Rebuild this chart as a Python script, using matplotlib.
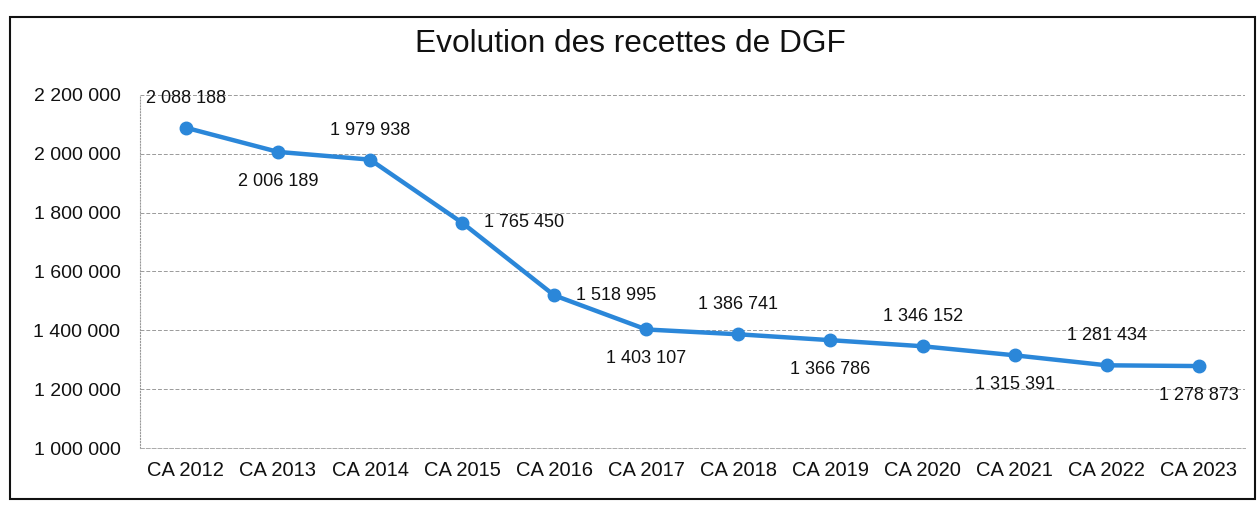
import matplotlib
matplotlib.use("Agg")
import matplotlib.pyplot as plt
from matplotlib.patches import Rectangle
from matplotlib.ticker import FuncFormatter, MultipleLocator

categories = ["CA 2012", "CA 2013", "CA 2014", "CA 2015", "CA 2016", "CA 2017",
              "CA 2018", "CA 2019", "CA 2020", "CA 2021", "CA 2022", "CA 2023"]
recettes = [2088188, 2006189, 1979938, 1765450, 1518995, 1403107,
            1386741, 1366786, 1346152, 1315391, 1281434, 1278873]
label_side = ["above", "below", "above", "right", "right", "below",
              "above", "below", "above", "below", "above", "below"]
title = "Evolution des recettes de DGF"

plt.rcParams["font.family"] = ["Liberation Sans", "DejaVu Sans"]

def fmt(v, pos=None):
    return f"{v:,.0f}".replace(",", " ")

fig = plt.figure(figsize=(12.6, 5.07), dpi=100)
ax = fig.add_axes([0.111, 0.116, 0.877, 0.697])

x = list(range(len(categories)))
ax.plot(x, recettes, color="#2b87d9", lw=3.2, marker="o", markersize=9,
        zorder=3, solid_capstyle="round")

offsets = {"above": (0, 21, "center", "bottom"),
           "below": (0, -21, "center", "top"),
           "right": (22, 0, "left", "center")}
for xi, v, side in zip(x, recettes, label_side):
    dx, dy, ha, va = offsets[side]
    ax.annotate(fmt(v), (xi, v), xytext=(dx, dy), textcoords="offset pixels",
                ha=ha, va=va, fontsize=13, color="#111111")

ax.set_xlim(-0.5, len(categories) - 0.5)
ax.set_ylim(1000000, 2200000)
ax.yaxis.set_major_locator(MultipleLocator(200000))
ax.yaxis.set_major_formatter(FuncFormatter(fmt))
ax.set_xticks(x)
ax.set_xticklabels(categories)
ax.tick_params(axis="both", colors="#111111", length=0)
ax.tick_params(axis="x", labelsize=14.5, pad=9)
ax.tick_params(axis="y", labelsize=14, pad=14)
ax.grid(axis="y", color="#9a9a9a", linestyle=(0, (4, 2)), linewidth=0.7)
for s in ["top", "right"]:
    ax.spines[s].set_visible(False)
ax.spines["left"].set_color("#999999")
ax.spines["left"].set_linestyle(":")
ax.spines["bottom"].set_color("#aaaaaa")
ax.spines["bottom"].set_linestyle((0, (4, 2)))
ax.spines["bottom"].set_linewidth(0.7)

fig.text(0.5, 0.914, title, ha="center", va="center", fontsize=22.8, color="#111111")
fig.patches.append(Rectangle((0.008, 0.015), 0.988, 0.952, transform=fig.transFigure,
                             fill=False, edgecolor="#111111", linewidth=1.5))

fig.savefig("out.png", dpi=100)
